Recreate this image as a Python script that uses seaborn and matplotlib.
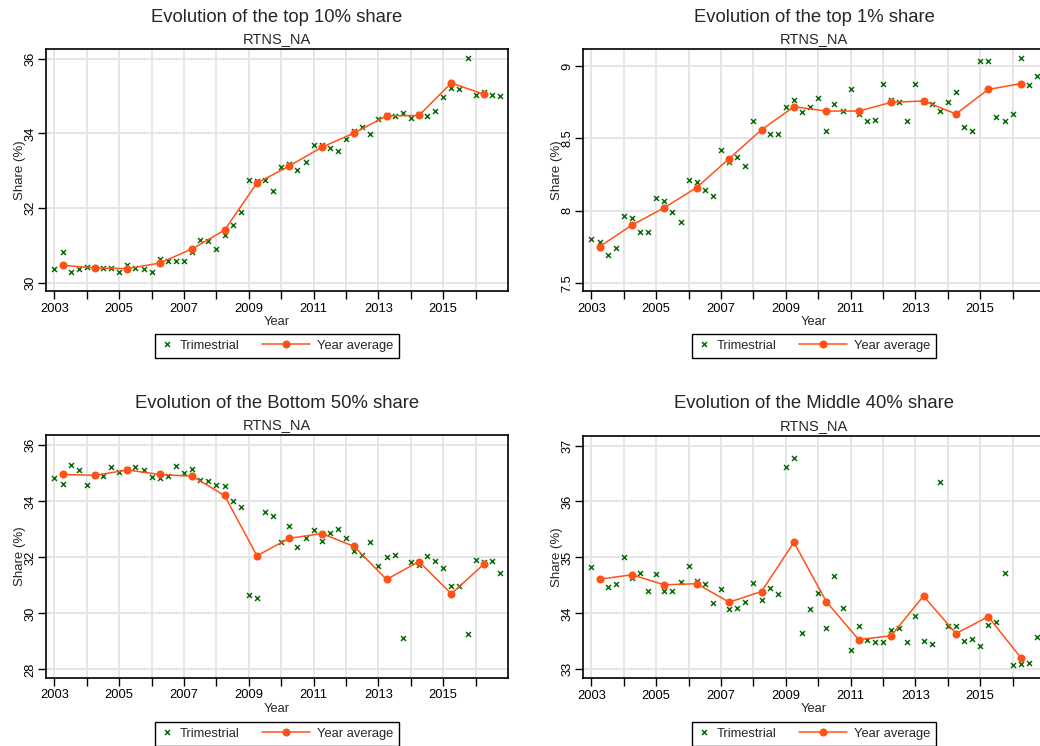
import numpy as np
import pandas as pd
import matplotlib
matplotlib.use("Agg")
import matplotlib.pyplot as plt
import seaborn as sns
from matplotlib.lines import Line2D
from matplotlib.legend_handler import HandlerLine2D

# ---------------- data ----------------
years = np.arange(2003, 2017)
quarter_offsets = [0.0, 0.25, 0.5, 0.75]
quarter_x = np.array([y + q for y in years for q in quarter_offsets])
avg_x = years + 0.25

top10_q = [30.37, 30.83, 30.28, 30.38, 30.43, 30.40, 30.40, 30.39, 30.29, 30.48, 30.40, 30.36,
           30.30, 30.64, 30.59, 30.59, 30.59, 30.82, 31.16, 31.12, 30.91, 31.27, 31.55, 31.91,
           32.76, 32.72, 32.75, 32.47, 33.09, 33.18, 33.01, 33.24, 33.70, 33.68, 33.61, 33.53,
           33.84, 34.07, 34.17, 33.98, 34.38, 34.48, 34.46, 34.55, 34.40, 34.51, 34.47, 34.59,
           34.98, 35.22, 35.19, 36.02, 35.04, 35.11, 35.04, 34.99]
top10_y = [30.47, 30.40, 30.38, 30.53, 30.91, 31.41, 32.67, 33.13, 33.63, 34.01, 34.47, 34.48, 35.35, 35.05]

top1_q = [7.80, 7.78, 7.69, 7.74, 7.96, 7.95, 7.85, 7.85, 8.09, 8.07, 7.99, 7.92,
          8.21, 8.20, 8.14, 8.10, 8.42, 8.34, 8.37, 8.31, 8.62, 8.56, 8.53, 8.53,
          8.72, 8.77, 8.68, 8.72, 8.78, 8.55, 8.74, 8.69, 8.84, 8.67, 8.62, 8.63,
          8.88, 8.77, 8.75, 8.62, 8.88, 8.75, 8.74, 8.69, 8.75, 8.82, 8.58, 8.55,
          9.04, 9.04, 8.65, 8.62, 8.67, 9.06, 8.87, 8.93]
top1_y = [7.75, 7.90, 8.02, 8.16, 8.36, 8.56, 8.72, 8.69, 8.69, 8.75, 8.76, 8.67, 8.84, 8.88]

bot50_q = [34.85, 34.61, 35.30, 35.12, 34.60, 34.94, 34.92, 35.24, 35.05, 35.14, 35.23, 35.11,
           34.88, 34.82, 34.92, 35.27, 35.02, 35.15, 34.77, 34.71, 34.60, 34.54, 34.02, 33.79,
           30.65, 30.54, 33.63, 33.46, 32.56, 33.12, 32.36, 32.68, 32.99, 32.57, 32.88, 33.00,
           32.69, 32.24, 32.10, 32.56, 31.69, 32.01, 32.10, 29.12, 31.85, 31.71, 32.04, 31.88,
           31.62, 30.99, 30.99, 29.26, 31.89, 31.83, 31.86, 31.44]
bot50_y = [34.96, 34.93, 35.12, 34.96, 34.90, 34.21, 32.06, 32.68, 32.85, 32.39, 31.21, 31.85, 30.70, 31.75]

mid40_q = [34.82, 34.62, 34.47, 34.53, 35.01, 34.64, 34.72, 34.40, 34.70, 34.40, 34.40, 34.56,
           34.85, 34.57, 34.53, 34.18, 34.43, 34.07, 34.10, 34.21, 34.54, 34.23, 34.46, 34.34,
           36.62, 36.77, 33.65, 34.08, 34.37, 33.73, 34.66, 34.10, 33.34, 33.77, 33.52, 33.49,
           33.49, 33.70, 33.73, 33.48, 33.95, 33.51, 33.45, 36.35, 33.77, 33.78, 33.51, 33.54,
           33.42, 33.80, 33.84, 34.72, 33.07, 33.09, 33.12, 33.58]
mid40_y = [34.61, 34.69, 34.51, 34.53, 34.20, 34.39, 35.27, 34.21, 33.53, 33.60, 34.31, 33.64, 33.94, 33.21]

titles = ["Evolution of the top 10% share", "Evolution of the top 1% share",
          "Evolution of the Bottom 50% share", "Evolution of the Middle 40% share"]
subtitle = "RTNS_NA"
x_ticks = list(years)
x_ticklabels = [str(y) if y % 2 == 1 else "" for y in years]
yticks_list = [[30, 32, 34, 36], [7.5, 8, 8.5, 9], [28, 30, 32, 34, 36], [33, 34, 35, 36, 37]]
yticklabels_list = [["30", "32", "34", "36"], ["7.5", "8", "8.5", "9"],
                    ["28", "30", "32", "34", "36"], ["33", "34", "35", "36", "37"]]
ylims = [(29.79, 36.26), (7.445, 9.12), (27.71, 36.37), (32.85, 37.17)]
series_q = [top10_q, top1_q, bot50_q, mid40_q]
series_y = [top10_y, top1_y, bot50_y, mid40_y]

# ---------------- style ----------------
sns.set_theme(style="white")
plt.rcParams["font.family"] = ["Liberation Sans", "DejaVu Sans"]

GREEN = "#0b6e0b"
ORANGE = "#ff5218"
GRID = "#e4e4e4"

W, H = 1040, 746
fig = plt.figure(figsize=(W / 100, H / 100), dpi=100)
fig.patch.set_facecolor("white")

# axes boxes in pixels: left, top, right, bottom
boxes = [(46, 49, 508, 290.7), (583, 49, 1045, 290.7),
         (46, 435, 508, 677.5), (583, 436, 1045, 677.7)]
legend_tops = [334, 334, 722, 722]


class WideLine(HandlerLine2D):
    def create_artists(self, legend, orig_handle, xdescent, ydescent, width, height, fontsize, trans):
        extra = 2.85 * fontsize
        return super().create_artists(legend, orig_handle, xdescent + extra, ydescent,
                                      width + extra, height, fontsize, trans)


for i in range(4):
    l, t, r, b = boxes[i]
    ax = fig.add_axes([l / W, 1 - b / H, (r - l) / W, (b - t) / H])
    ax.set_facecolor("white")

    df_q = pd.DataFrame({"Year": quarter_x, "Share": series_q[i]})
    df_y = pd.DataFrame({"Year": avg_x, "Share": series_y[i]})

    sns.scatterplot(data=df_q, x="Year", y="Share", marker="x", s=13, color=GREEN,
                    linewidth=1.1, ax=ax, zorder=3)
    sns.lineplot(data=df_y, x="Year", y="Share", marker="o", markersize=5.8, color=ORANGE,
                 linewidth=1.1, markeredgewidth=0, ax=ax, zorder=4)

    ax.set_xlim(2002.74, 2017.0)
    ax.set_ylim(*ylims[i])
    ax.set_xticks(x_ticks)
    ax.set_xticklabels(x_ticklabels)
    ax.set_yticks(yticks_list[i])
    ax.set_yticklabels(yticklabels_list[i], rotation=90, va="center")
    ax.grid(True, color=GRID, linewidth=1.3)
    ax.set_axisbelow(True)
    ax.tick_params(axis="both", direction="out", length=5.5, width=1, colors="black",
                   labelsize=9.3, bottom=True, left=True)
    ax.tick_params(axis="x", pad=3)
    ax.tick_params(axis="y", pad=1.5)
    for sp in ax.spines.values():
        sp.set_visible(True)
        sp.set_color("black")
        sp.set_linewidth(1.2)

    ax.set_xlabel("Year", fontsize=9.3, labelpad=1)
    ax.set_ylabel("Share (%)", fontsize=9.5, labelpad=-1)

    ax.annotate(titles[i], xy=(0.5, 1), xycoords="axes fraction", xytext=(0, 27.5 * 0.72),
                textcoords="offset points", ha="center", va="baseline", fontsize=13.3)
    ax.annotate(subtitle, xy=(0.5, 1), xycoords="axes fraction", xytext=(0, 6 * 0.72),
                textcoords="offset points", ha="center", va="baseline", fontsize=10.5)

    h_q = Line2D([], [], linestyle="none", marker="x", color=GREEN, markersize=3.6,
                 markeredgewidth=1.1)
    h_y = Line2D([], [], color=ORANGE, linewidth=1.1, marker="o", markersize=5.8,
                 markeredgewidth=0)
    cx = (l + r) / 2
    leg = ax.legend([h_q, h_y], ["Trimestrial", "Year average"], ncol=2,
                    loc="upper center", bbox_to_anchor=(cx / W, 1 - legend_tops[i] / H),
                    bbox_transform=fig.transFigure, handler_map={h_y: WideLine()},
                    handlelength=0.9, handletextpad=0.5, columnspacing=4.6,
                    borderpad=0.45, frameon=True, fancybox=False, edgecolor="black",
                    framealpha=1, fontsize=9.3, borderaxespad=0)
    leg.get_frame().set_linewidth(1.0)

fig.savefig("out.png", dpi=100, facecolor="white")
